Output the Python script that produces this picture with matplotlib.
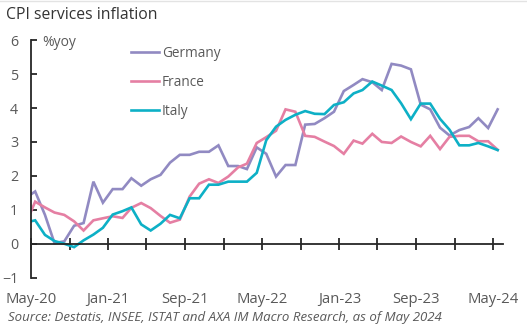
import matplotlib
matplotlib.use('Agg')
import matplotlib.pyplot as plt
import pandas as pd
from matplotlib.lines import Line2D

# monthly readings (mid-month), the series opens with one extra reading at the start of May-20
dates = [pd.Timestamp('2020-05-01')] + list(
    pd.date_range('2020-05-01', '2024-05-01', freq='MS') + pd.Timedelta(days=14))

germany = [1.45, 1.54, 0.85, 0.02, 0.07, 0.53, 0.61, 1.83, 1.21, 1.61,
           1.61, 1.93, 1.71, 1.90, 2.03, 2.39, 2.62, 2.62, 2.71, 2.71,
           2.90, 2.29, 2.29, 2.20, 2.84, 2.65, 1.98, 2.32, 2.32, 3.51,
           3.53, 3.70, 3.89, 4.50, 4.68, 4.85, 4.76, 4.53, 5.30, 5.25,
           5.14, 4.10, 3.96, 3.42, 3.19, 3.35, 3.44, 3.70, 3.41, 3.96]
france = [0.93, 1.24, 1.07, 0.92, 0.85, 0.66, 0.39, 0.69, 0.75, 0.81,
          0.76, 1.06, 1.20, 1.05, 0.82, 0.62, 0.71, 1.39, 1.77, 1.90,
          1.79, 1.98, 2.25, 2.36, 2.97, 3.14, 3.33, 3.96, 3.89, 3.18,
          3.15, 3.01, 2.88, 2.65, 3.04, 2.95, 3.24, 3.00, 2.97, 3.16,
          3.00, 2.87, 3.18, 2.79, 3.15, 3.18, 3.18, 3.02, 3.02, 2.77]
italy = [0.66, 0.69, 0.26, 0.08, 0.00, -0.10, 0.10, 0.27, 0.47, 0.86,
         0.96, 1.07, 0.57, 0.39, 0.59, 0.85, 0.75, 1.34, 1.34, 1.74,
         1.74, 1.83, 1.83, 1.83, 2.09, 3.05, 3.45, 3.65, 3.80, 3.91,
         3.83, 3.82, 4.09, 4.17, 4.43, 4.53, 4.78, 4.66, 4.53, 4.14,
         3.67, 4.13, 4.13, 3.68, 3.36, 2.90, 2.90, 2.97, 2.87, 2.76]

series = {'Germany': germany, 'France': france, 'Italy': italy}
colors = {'Germany': '#918AC2', 'France': '#E57FA3', 'Italy': '#0DB0C6'}

tick_dates = pd.date_range('2020-05-01', '2024-05-01', freq='4MS')
tick_labels = [d.strftime('%b-%y') if i % 2 == 0 else '' for i, d in enumerate(tick_dates)]

plt.rcParams['font.family'] = ['Open Sans', 'DejaVu Sans']
grey = '#595959'

fig = plt.figure(figsize=(5.27, 3.29), dpi=100)
ax = fig.add_axes([0.0583, 0.156, 0.8962, 0.722])

for name, vals in series.items():
    ax.plot(dates, vals, color=colors[name], lw=1.9, label=name,
            solid_joinstyle='miter')

ax.set_ylim(-1, 6)
ax.set_xlim(pd.Timestamp('2020-05-01'), pd.Timestamp('2024-06-01'))
ax.set_yticks(range(-1, 7))

ax.set_xticks(tick_dates)
ax.set_xticklabels(tick_labels)

for s in ['top', 'right']:
    ax.spines[s].set_visible(False)
ax.spines['bottom'].set_position(('data', 0))
for s in ['left', 'bottom']:
    ax.spines[s].set_color('#262626')
    ax.spines[s].set_linewidth(1.3)

ax.tick_params(axis='y', direction='in', length=4, width=1.3, color='#262626',
               labelsize=10.3, labelcolor=grey, pad=9)
ax.tick_params(axis='x', direction='inout', length=8, width=1.3, color='#262626',
               labelsize=10.7, labelcolor=grey, pad=31)

ax.text(0.025, 0.99, '%yoy', transform=ax.transAxes, fontsize=10,
        color=grey, va='center', ha='left')

ax.legend(loc='upper left', bbox_to_anchor=(0.2, 1.0), frameon=False,
          handlelength=2.1, handletextpad=0.2, labelspacing=1.05,
          fontsize=9.8, labelcolor=grey, borderaxespad=0)

fig.text(0.011, 0.955, 'CPI services inflation', fontsize=11.3, color='#333333',
         ha='left', va='center')
fig.text(0.015, 0.035, 'Source: Destatis, INSEE, ISTAT and AXA IM Macro Research, as of May 2024',
         fontsize=9.5, style='italic', color=grey, ha='left', va='center')

# thin grey rule along the top edge of the image
fig.add_artist(Line2D([0, 1], [0.998, 0.998], transform=fig.transFigure,
                      color='#e3e3e3', lw=1))

fig.savefig('out.png', dpi=100)
